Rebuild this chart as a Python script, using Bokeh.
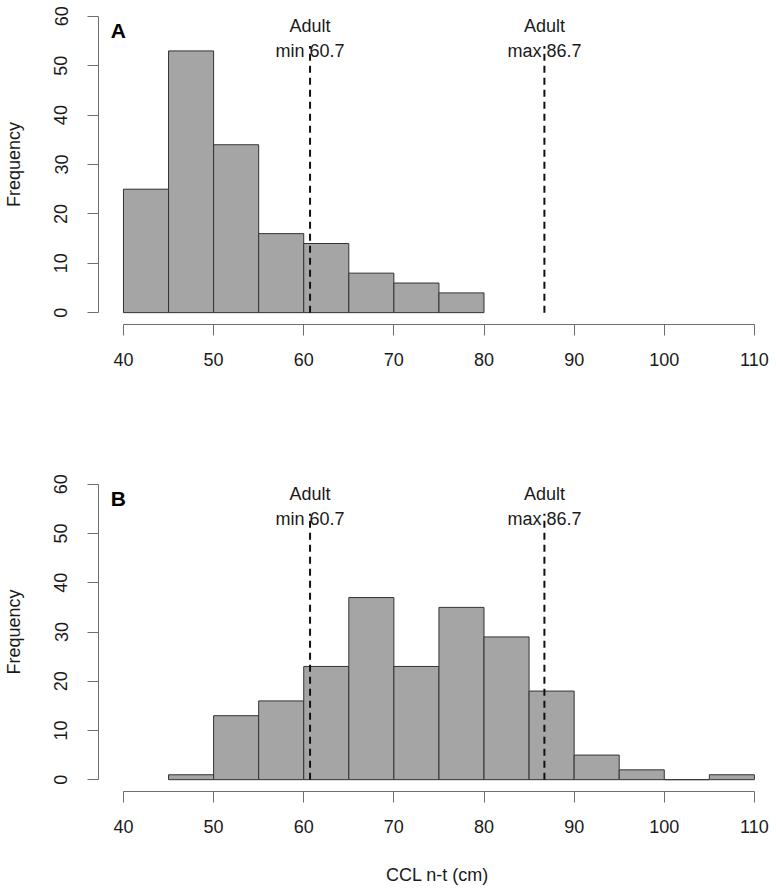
from bokeh.plotting import figure
from bokeh.layouts import column
from bokeh.models import Range1d, FixedTicker
from bokeh.core.properties import value
from bokeh.embed import file_html
from bokeh.resources import INLINE

# ---- data ----
bin_width = 5
bin_left_a = [40, 45, 50, 55, 60, 65, 70, 75]
counts_a = [25, 53, 34, 16, 14, 8, 6, 4]
bin_left_b = [45, 50, 55, 60, 65, 70, 75, 80, 85, 90, 95, 100, 105]
counts_b = [1, 13, 16, 23, 37, 23, 35, 29, 18, 5, 2, 0, 1]
x_ticks = [40, 50, 60, 70, 80, 90, 100, 110]
y_ticks = [0, 10, 20, 30, 40, 50, 60]
adult_min = 60.7
adult_max = 86.7
ref_names = ["min", "max"]
ref_heading = "Adult"
panel_labels = ["A", "B"]
x_title = "CCL n-t (cm)"
y_title = "Frequency"

FONT = "Liberation Sans"
TXT = "#1a1a1a"
AXC = "#6e6e6e"


def make_panel(letter, lefts, counts, height, border_top, border_bottom, show_xtitle):
    p = figure(width=776, height=height, output_backend="svg", toolbar_location=None,
               x_range=Range1d(37.23, 112.45), y_range=Range1d(-2.4, 62.4),
               min_border_left=98, min_border_right=0,
               min_border_top=border_top, min_border_bottom=border_bottom)
    p.outline_line_color = None
    p.xgrid.visible = False
    p.ygrid.visible = False
    p.background_fill_color = "white"
    p.border_fill_color = "white"

    rights = [l + bin_width for l in lefts]
    p.quad(left=lefts, right=rights, bottom=[0] * len(lefts), top=counts,
           fill_color="#a5a5a5", line_color="#333333", line_width=1)

    refs = [adult_min, adult_max]
    p.segment(x0=refs, y0=[0, 0], x1=refs, y1=[54, 54], line_color="#111111",
              line_width=2, line_dash="7 5")
    p.text(x=refs, y=[58.0, 58.0], text=[ref_heading, ref_heading], text_align="center",
           text_baseline="alphabetic", text_font=value(FONT), text_font_size="18px",
           text_color=TXT)
    p.text(x=refs, y=[53.0, 53.0], text=[f"{n} {v}" for n, v in zip(ref_names, refs)],
           text_align="center", text_baseline="alphabetic", text_font=value(FONT),
           text_font_size="18px", text_color=TXT)
    p.text(x=[38.6], y=[57.1], text=[letter], text_align="left", text_baseline="alphabetic",
           text_font=value(FONT), text_font_size="21px", text_font_style="bold",
           text_color="#000000")

    for ax, bounds, ticks in ((p.xaxis, (x_ticks[0], x_ticks[-1]), x_ticks),
                              (p.yaxis, (y_ticks[0], y_ticks[-1]), y_ticks)):
        ax.bounds = bounds
        ax.ticker = FixedTicker(ticks=ticks)
        ax.axis_line_color = AXC
        ax.major_tick_line_color = AXC
        ax.minor_tick_line_color = None
        ax.major_tick_in = 0
        ax.major_tick_out = 11
        ax.major_label_text_font = FONT
        ax.major_label_text_font_size = "18px"
        ax.major_label_text_color = TXT
        ax.axis_label_text_font = FONT
        ax.axis_label_text_font_size = "18px"
        ax.axis_label_text_font_style = "normal"
        ax.axis_label_text_color = TXT
    p.xaxis.major_label_standoff = 17
    p.yaxis.major_label_standoff = 20
    p.yaxis.major_label_orientation = "parallel"
    p.yaxis.axis_label = y_title
    p.yaxis.axis_label_standoff = 28
    if show_xtitle:
        p.xaxis.axis_label = x_title
        p.xaxis.axis_label_standoff = 29
    return p


pa = make_panel(panel_labels[0], bin_left_a, counts_a, 400, 4, 76, False)
pb = make_panel(panel_labels[1], bin_left_b, counts_b, 494, 72, 103, True)

layout = column(pa, pb, spacing=0)
open("out.html", "w").write(file_html(layout, INLINE))
